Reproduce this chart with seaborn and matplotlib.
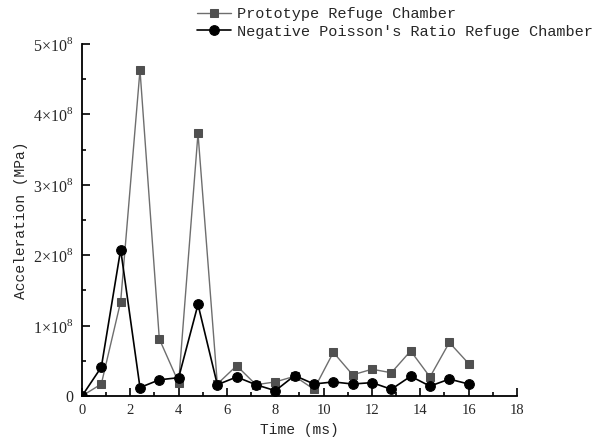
import numpy as np
import pandas as pd
import seaborn as sns
import matplotlib.pyplot as plt
from matplotlib.ticker import MultipleLocator, FixedLocator, FixedFormatter

time_ms = [0, 0.8, 1.6, 2.4, 3.2, 4.0, 4.8, 5.6, 6.4, 7.2, 8.0,
           8.8, 9.6, 10.4, 11.2, 12.0, 12.8, 13.6, 14.4, 15.2, 16.0]
prototype = [0, 0.17, 1.34, 4.63, 0.81, 0.19, 3.73, 0.17, 0.43, 0.16, 0.20,
             0.28, 0.095, 0.62, 0.30, 0.38, 0.33, 0.64, 0.27, 0.76, 0.46]
negative = [0, 0.41, 2.08, 0.12, 0.23, 0.26, 1.30, 0.16, 0.27, 0.16, 0.075,
            0.29, 0.17, 0.20, 0.17, 0.19, 0.095, 0.28, 0.14, 0.24, 0.17]
series_names = ['Prototype Refuge Chamber', "Negative Poisson's Ratio Refuge Chamber"]
ytick_vals = [0, 1, 2, 3, 4, 5]
ytick_labels = ['0'] + [r'$%d{\times}10^{8}$' % v for v in ytick_vals[1:]]

sns.set_style('ticks')
plt.rcParams['font.family'] = ['Liberation Mono', 'DejaVu Sans']
plt.rcParams['mathtext.fontset'] = 'custom'
plt.rcParams['mathtext.rm'] = 'Liberation Serif'

df = pd.DataFrame({'t': time_ms * 2,
                   'a': np.array(prototype + negative) * 1e8,
                   's': [series_names[0]] * len(time_ms) + [series_names[1]] * len(time_ms)})

fig = plt.figure(figsize=(5.92, 4.48), dpi=100)
ax = fig.add_axes([0.1385, 0.1161, 0.7348, 0.7857])

sns.lineplot(data=df[df.s == series_names[0]], x='t', y='a', ax=ax, color='#6e6e6e',
             lw=1.0, marker='s', markersize=6, markerfacecolor='#505050',
             markeredgecolor='#505050', label=series_names[0])
sns.lineplot(data=df[df.s == series_names[1]], x='t', y='a', ax=ax, color='black',
             lw=1.2, marker='o', markersize=7, markerfacecolor='black',
             markeredgecolor='black', label=series_names[1])

sns.despine(ax=ax)
ax.set_xlim(0, 18)
ax.set_ylim(0, 5e8)
ax.xaxis.set_major_locator(MultipleLocator(2))
ax.xaxis.set_minor_locator(MultipleLocator(1))
ax.yaxis.set_major_locator(FixedLocator([v * 1e8 for v in ytick_vals]))
ax.yaxis.set_major_formatter(FixedFormatter(ytick_labels))
ax.yaxis.set_minor_locator(MultipleLocator(0.5e8))
ax.tick_params(which='both', direction='in', width=1.2, color='black')
ax.tick_params(which='major', length=6, pad=6)
ax.tick_params(which='minor', length=3)
ax.tick_params(axis='x', labelsize=10.5)
ax.tick_params(axis='y', labelsize=11.5)
for lab in ax.get_xticklabels() + ax.get_yticklabels():
    lab.set_fontfamily('Liberation Serif')
for sp in ['left', 'bottom']:
    ax.spines[sp].set_linewidth(1.3)
    ax.spines[sp].set_color('black')

ax.set_xlabel('Time (ms)', fontsize=10.5, labelpad=4)
ax.set_ylabel('Acceleration (MPa)', fontsize=10.5, labelpad=4)

ax.legend_.remove()
handles, labels = ax.get_legend_handles_labels()
fig.legend(handles, labels, loc='upper left', bbox_to_anchor=(0.323, 0.998),
           frameon=False, fontsize=11, handlelength=2.2, handletextpad=0.4,
           labelspacing=0.25, borderaxespad=0)

fig.savefig('out.png', dpi=100)
